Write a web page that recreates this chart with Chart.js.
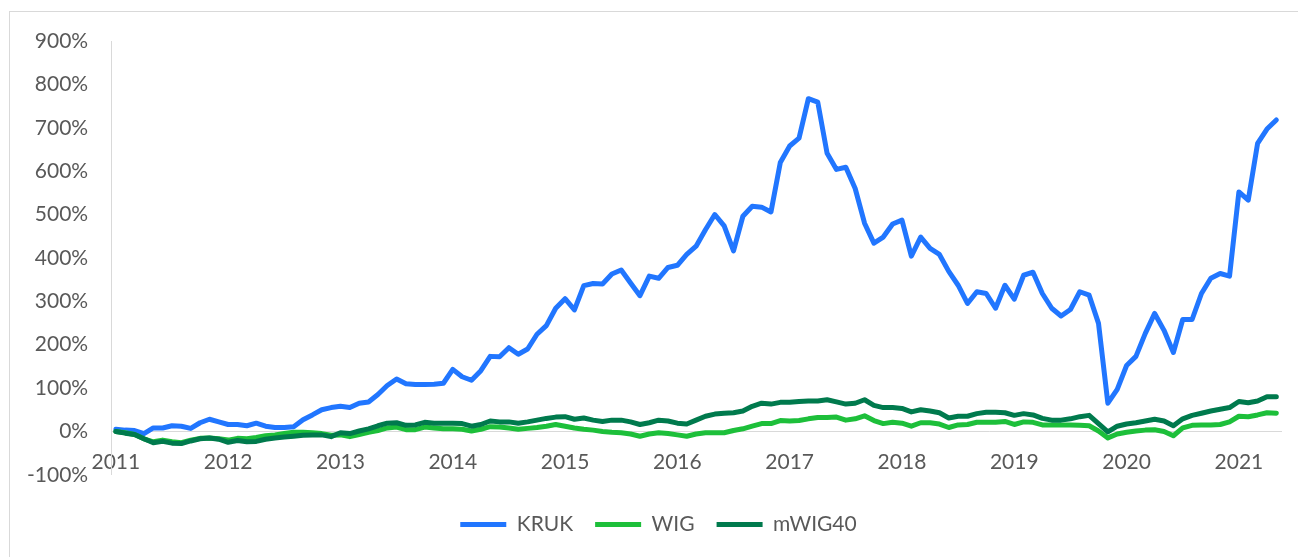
<!DOCTYPE html>
<html>
<head>
<meta charset="utf-8">
<script src="https://cdn.jsdelivr.net/npm/chart.js@4"></script>
<style>
    html, body { margin: 0; padding: 0; background: #fff; }
    #frame {
        position: absolute; left: 9px; top: 11px;
        width: 1320px; height: 580px;
        border: 1px solid #d9d9d9;
    }
    #wrap { position: absolute; left: 0; top: 0; width: 1298px; height: 557px; }
</style>
</head>
<body>
<div id="frame"></div>
<div id="wrap"><canvas id="returnsChart"></canvas></div>
<script>
// year tick labels, one per January
const yearLabels = ['2011', '2012', '2013', '2014', '2015', '2016', '2017', '2018', '2019', '2020', '2021'];
const monthCount = 125; // Jan 2011 .. May 2021

// cumulative return, % (monthly)
const kruk = [
    5, 3, 2, -5, 8, 8, 13, 12, 7, 20, 28, 22,
    16, 16, 13, 19, 12, 9, 9, 11, 27, 38, 50, 55,
    58, 55, 65, 68, 85, 106, 121, 110, 108, 108, 109, 111,
    143, 126, 118, 140, 173, 172, 193, 178, 190, 224, 244, 284,
    306, 280, 336, 341, 340, 363, 372, 342, 313, 358, 353, 378,
    383, 408, 427, 465, 500, 474, 416, 496, 519, 517, 506, 620,
    658, 676, 767, 759, 641, 604, 609, 560, 480, 434, 448, 478,
    487, 404, 448, 422, 408, 369, 337, 295, 322, 318, 284, 337,
    305, 360, 367, 318, 284, 266, 281, 322, 314, 249, 65, 97,
    152, 173, 226, 272, 233, 182, 258, 258, 318, 353, 364, 358,
    552, 533, 664, 697, 718
];
const wig = [
    0, -3, -7, -17, -24, -20, -24, -26, -20, -16, -15, -17,
    -20, -16, -17, -14, -10, -8, -5, -2, -2, -3, -5, -9,
    -8, -12, -7, -2, 2, 8, 10, 4, 4, 10, 8, 6,
    6, 5, 1, 5, 11, 10, 8, 5, 7, 9, 12, 16,
    12, 8, 5, 3, 0, -2, -3, -6, -11, -6, -3, -5,
    -8, -11, -6, -3, -3, -3, 2, 6, 12, 18, 18, 25,
    24, 25, 29, 32, 32, 33, 26, 29, 36, 25, 18, 21,
    19, 12, 20, 20, 17, 9, 15, 16, 21, 21, 21, 23,
    16, 22, 21, 15, 15, 15, 15, 14, 13, 1, -15, -6,
    -2, 1, 3, 4, 0, -10, 8, 14, 15, 15, 16, 22,
    35, 34, 38, 43, 42
];
const mwig40 = [
    0, -4, -7, -17, -26, -23, -27, -28, -22, -17, -15, -18,
    -25, -21, -24, -23, -18, -15, -13, -11, -9, -8, -8, -12,
    -3, -5, 1, 6, 13, 19, 20, 14, 15, 21, 19, 19,
    19, 18, 12, 16, 24, 22, 22, 19, 22, 26, 30, 33,
    34, 28, 31, 26, 23, 26, 26, 22, 16, 20, 26, 24,
    19, 17, 26, 35, 40, 42, 43, 47, 58, 65, 63, 67,
    67, 69, 70, 70, 73, 68, 63, 65, 73, 60, 55, 55,
    53, 45, 50, 47, 43, 31, 35, 35, 41, 44, 44, 43,
    37, 41, 38, 30, 26, 26, 29, 34, 37, 18, -1, 12,
    17, 20, 24, 28, 24, 13, 29, 37, 42, 47, 51, 55,
    69, 66, 70, 80, 80
];

document.addEventListener('DOMContentLoaded', function () {
    // month categories built from the year list
    const categories = [];
    yearLabels.forEach(y => {
        for (let m = 1; m <= 12; m++) categories.push(y + '-' + String(m).padStart(2, '0'));
    });
    categories.length = monthCount;

    const textColor = '#595959';
    const font = { family: 'Lato, "Open Sans", sans-serif', size: 21 };

    const line = (label, data, color, order) => ({
        label: label,
        data: data,
        borderColor: color,
        backgroundColor: color,
        borderWidth: 5,
        borderJoinStyle: 'round',
        borderCapStyle: 'round',
        pointRadius: 0,
        tension: 0,
        order: order
    });

    // legend sits a bit right of the canvas centre
    const shiftLegend = {
        id: 'shiftLegend',
        afterLayout(chart) {
            chart.legend.left += 16;
            chart.legend.right += 16;
        }
    };

    const ctx = document.getElementById('returnsChart').getContext('2d');
    new Chart(ctx, {
        type: 'line',
        data: {
            labels: categories,
            datasets: [
                line('KRUK', kruk, '#2176ff', 3),
                line('WIG', wig, '#1dbf3a', 2),
                line('mWIG40', mwig40, '#007a4d', 1)
            ]
        },
        plugins: [shiftLegend],
        options: {
            responsive: true,
            maintainAspectRatio: false,
            animation: false,
            layout: { padding: { left: 4, right: 17, top: 41, bottom: 12 } },
            scales: {
                x: {
                    position: { y: 0 },
                    offset: true,
                    grid: { display: false, drawTicks: false },
                    border: { display: true, color: '#d9d9d9', width: 1 },
                    ticks: {
                        autoSkip: false,
                        maxRotation: 0,
                        padding: 18,
                        color: textColor,
                        font: font,
                        callback: function (value, index) {
                            return index % 12 === 0 ? yearLabels[index / 12] : '';
                        }
                    }
                },
                y: {
                    min: -100,
                    max: 900,
                    grid: { display: false, drawTicks: false },
                    border: { display: true, color: '#d9d9d9', width: 1 },
                    ticks: {
                        stepSize: 100,
                        padding: 23,
                        color: textColor,
                        font: font,
                        callback: v => v + '%'
                    }
                }
            },
            plugins: {
                tooltip: { enabled: false },
                legend: {
                    position: 'bottom',
                    // empty title only adds space between plot and legend
                    title: { display: true, text: '', font: { size: 1 }, padding: { top: 16, bottom: 0 } },
                    labels: {
                        usePointStyle: true,
                        pointStyle: 'line',
                        pointStyleWidth: 46,
                        padding: 22,
                        color: textColor,
                        font: font,
                        sort: (a, b) => a.datasetIndex - b.datasetIndex
                    }
                }
            }
        }
    });
});
</script>
</body>
</html>
